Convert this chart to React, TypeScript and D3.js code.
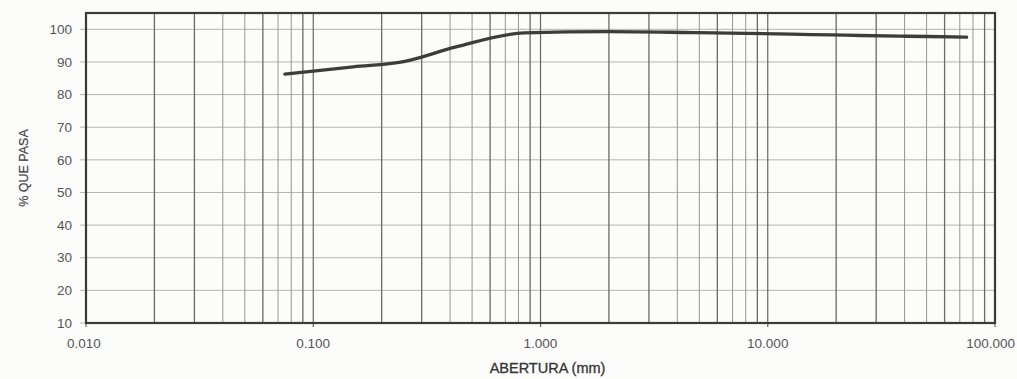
import React from "react";
import * as d3 from "d3";

// sieve openings (mm) and % passing
const sieveSizes = [0.075, 0.15, 0.25, 0.425, 0.85, 2.0, 4.76, 9.525, 12.7, 19.05, 25.4, 38.1, 50.8, 75.0];
const percentPassing = [86.3, 88.5, 90.1, 94.6, 98.9, 99.3, 99.0, 98.7, 98.5, 98.3, 98.1, 97.9, 97.8, 97.6];

const xTickValues = [0.01, 0.1, 1, 10, 100];
const xTickLabels = ["0.010", "0.100", "1.000", "10.000", "100.000"];
const yTickValues = [10, 20, 30, 40, 50, 60, 70, 80, 90, 100];

const W = 1017;
const H = 379;
const margin = { top: 13, right: 22, bottom: 56, left: 86 };

export default function App() {
  const x = d3.scaleLog().domain([0.01, 100]).range([margin.left, W - margin.right]);
  const y = d3.scaleLinear().domain([10, 105]).range([H - margin.bottom, margin.top]);

  // log grid: 2..9 in each decade
  const minorLines: number[] = [];
  for (let dec = 0.01; dec < 100; dec *= 10) {
    for (let k = 2; k <= 9; k++) minorLines.push(+(dec * k).toPrecision(3));
  }
  const darker = new Set([0.02, 0.03, 0.06, 0.09, 0.2, 0.3, 0.6, 0.9, 2, 3, 6, 9, 20, 30, 60, 90]);

  const pts = sieveSizes.map((s, i) => [s, percentPassing[i]] as [number, number]);
  const line = d3.line<[number, number]>()
    .x(d => x(d[0]))
    .y(d => y(d[1]))
    .curve(d3.curveMonotoneX);

  const x0 = x(0.01), x1 = x(100);
  const yTop = y(105), yBot = y(10);

  return (
    <div style={{ position: "fixed", left: 0, top: 0 }}>
      <svg width={W} height={H} style={{ display: "block", background: "#fcfcfa" }}
        fontFamily="'Liberation Sans', Arial, sans-serif">
        {/* horizontal grid */}
        <g>
          {yTickValues.map(v => (
            <line key={"h" + v} x1={x0 - 6} x2={x1} y1={y(v)} y2={y(v)} stroke="#b4b4b4" strokeWidth={1} />
          ))}
        </g>
        {/* vertical log grid */}
        <g>
          {minorLines.map(v => (
            <line key={"v" + v} x1={x(v)} x2={x(v)} y1={yTop} y2={yBot}
              stroke={darker.has(v) ? "#6a6a6a" : "#959595"} strokeWidth={darker.has(v) ? 1.3 : 1} />
          ))}
          {xTickValues.map(v => (
            <line key={"m" + v} x1={x(v)} x2={x(v)} y1={yTop} y2={yBot + 4} stroke="#666" strokeWidth={1.2} />
          ))}
        </g>
        {/* frame */}
        <rect x={x0} y={yTop} width={x1 - x0} height={yBot - yTop} fill="none" stroke="#3a3a3a" strokeWidth={2.2} />

        {/* curve */}
        <path d={line(pts) || ""} fill="none" stroke="#3c3c3c" strokeWidth={3.3} strokeLinecap="round" />

        {/* y tick labels */}
        <g fontSize={13.5} fill="#555" textAnchor="end">
          {yTickValues.map(v => (
            <text key={"yl" + v} x={x0 - 14} y={y(v)} dy="0.35em">{v}</text>
          ))}
        </g>
        {/* x tick labels, last one kept inside the page */}
        <g fontSize={13.5} fill="#555">
          {xTickValues.map((v, i) => {
            const last = i === xTickValues.length - 1;
            return (
              <text key={"xl" + v} x={last ? W - 2 : x(v) + (i === 0 ? -2 : 0)} y={yBot + 25}
                textAnchor={last ? "end" : "middle"}>{xTickLabels[i]}</text>
            );
          })}
        </g>
        {/* axis titles */}
        <text x={(x(1) + 7)} y={H - 6} textAnchor="middle" fontSize={14.5} fill="#333" stroke="#333" strokeWidth={0.3}>ABERTURA (mm)</text>
        <text transform={`translate(28,${(yTop + yBot) / 2}) rotate(-90)`} textAnchor="middle" fontSize={12.5} fill="#444" stroke="#444" strokeWidth={0.2}>% QUE PASA</text>
      </svg>
    </div>
  );
}
